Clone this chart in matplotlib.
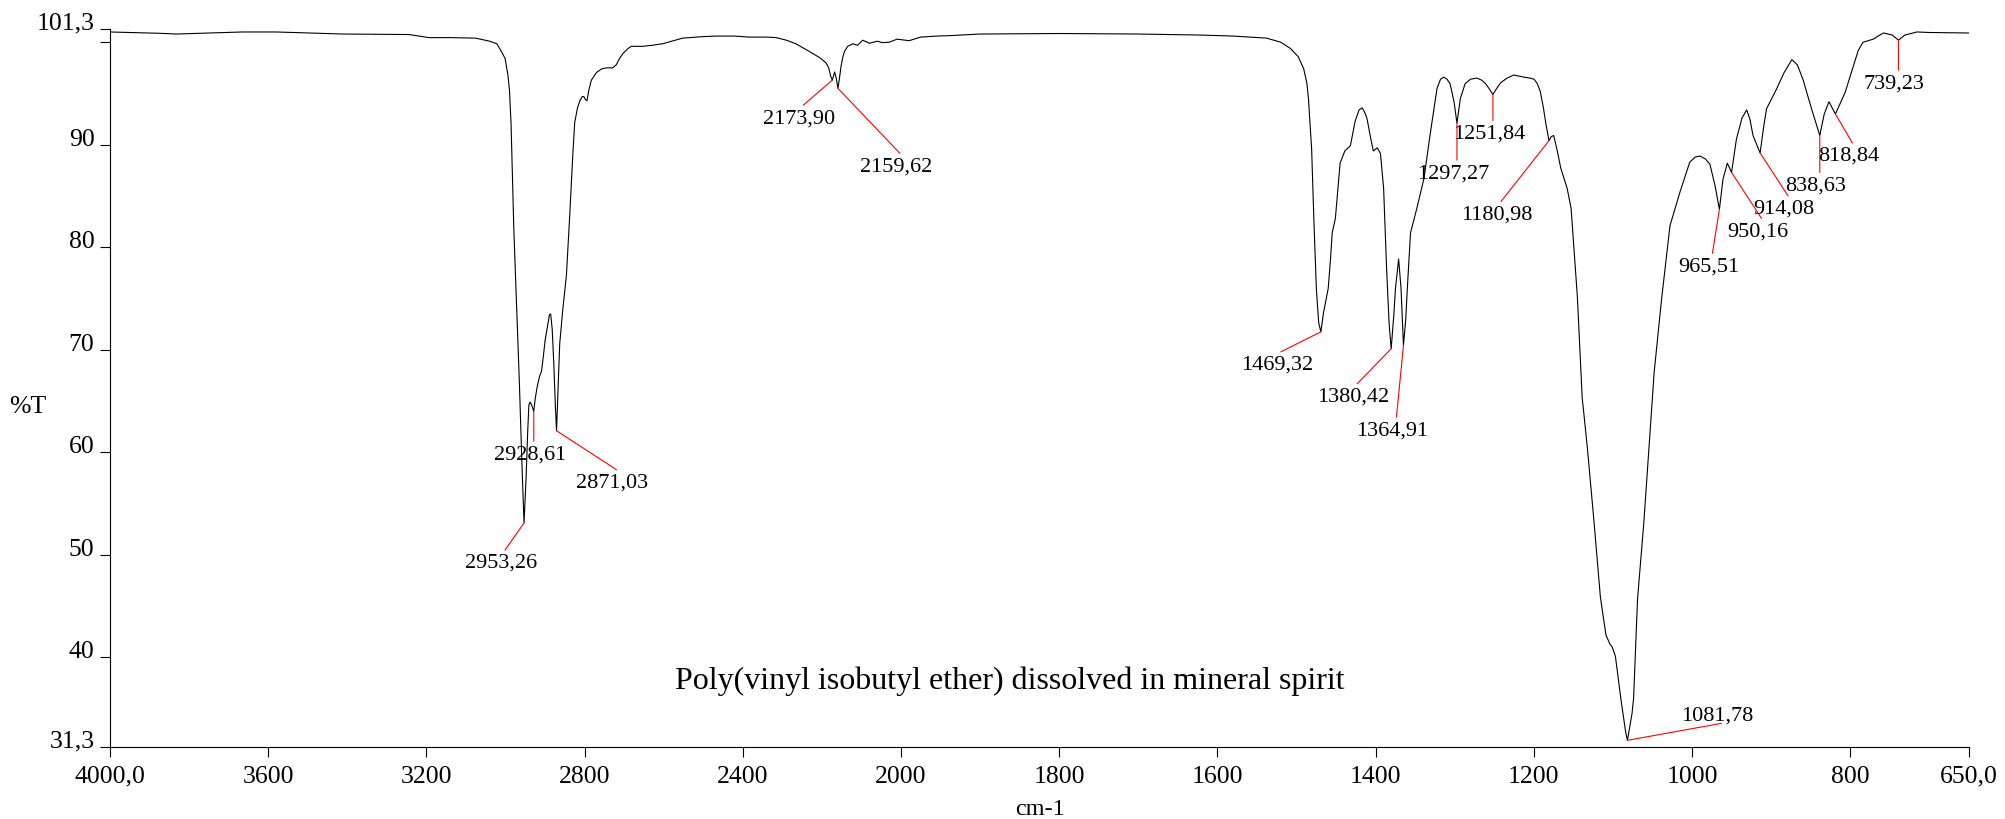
import numpy as np
import matplotlib
matplotlib.use('Agg')
import matplotlib.pyplot as plt

# FTIR spectrum
wavenumber = [
    4000, 3874, 3832, 3748, 3665, 3580, 3496, 3412, 3244, 3193, 3140, 3076, 3040, 3022, 3009,
    3001, 2994, 2990, 2986, 2982, 2979, 2972, 2965, 2959, 2953.26, 2948, 2944, 2941, 2938, 2934,
    2928.61, 2925, 2920, 2914, 2909, 2904, 2900, 2893, 2889, 2886, 2882, 2878, 2874, 2871.03, 2867,
    2863, 2855, 2846, 2837, 2830, 2825, 2818, 2812, 2806, 2802, 2798, 2794, 2789, 2783, 2770,
    2757, 2745, 2729, 2720, 2712, 2703, 2690, 2682, 2653, 2630, 2603, 2552, 2500, 2468, 2420,
    2384, 2340, 2316, 2290, 2266, 2250, 2232, 2206, 2190, 2183, 2178, 2173.90, 2168, 2164, 2159.62,
    2155, 2152, 2147, 2143, 2135, 2122, 2110, 2097, 2080, 2060, 2047, 2030, 2010, 1990, 1975,
    1955, 1937, 1900, 1800, 1700, 1622, 1580, 1538, 1520, 1508, 1498, 1491, 1487, 1485, 1481,
    1478, 1475, 1472, 1469.32, 1466, 1462, 1460, 1457, 1455, 1451, 1445, 1439, 1432, 1426, 1421,
    1417, 1413, 1411, 1406, 1403, 1398, 1394, 1390, 1386, 1383, 1380.42, 1377, 1375, 1371, 1368,
    1366, 1364.91, 1362, 1360, 1356, 1348, 1339, 1331, 1322.5, 1318, 1314, 1310, 1306, 1301, 1297.27,
    1293, 1287, 1280, 1272, 1266, 1261, 1256, 1251.84, 1247, 1242, 1234, 1225.5, 1213, 1205, 1200,
    1196, 1192, 1188, 1185, 1180.98, 1178, 1175, 1171, 1166, 1158, 1153, 1149, 1145, 1139, 1132.5,
    1124, 1116, 1109, 1104, 1101, 1097, 1090, 1084, 1081.78, 1076, 1074, 1069, 1061, 1048, 1038.6,
    1028, 1015.5, 1003, 996, 990, 983, 977.5, 971, 965.51, 961, 955.5, 950.16, 944, 937, 931,
    927, 923, 914.08, 910, 906, 893.5, 884, 874, 867, 860, 849, 838.63, 833, 827, 823,
    818.84, 813, 806.6, 796, 790, 784, 771, 765, 758, 747, 739.23, 731, 716, 700, 650,
]
transmittance = [
    101.0, 100.87, 100.8, 100.9, 101.0, 101.0, 100.9, 100.8, 100.75, 100.45, 100.45, 100.4, 100.1, 99.85, 99.0,
    98.4, 96.8, 95.3, 92.0, 86.0, 81.7, 74.3, 66.8, 59.4, 53.1, 57.5, 62.0, 64.6, 64.9, 64.6,
    64.0, 65.2, 66.4, 67.4, 67.9, 69.5, 70.9, 72.5, 73.4, 73.5, 72.0, 68.7, 64.5, 62.1, 66.5,
    70.6, 74.0, 77.3, 83.6, 89.0, 92.2, 93.6, 94.3, 94.7, 94.7, 94.4, 94.3, 95.4, 96.3, 97.05,
    97.4, 97.5, 97.5, 97.8, 98.4, 98.9, 99.4, 99.6, 99.6, 99.7, 99.85, 100.4, 100.55, 100.6, 100.6,
    100.5, 100.5, 100.45, 100.2, 99.85, 99.5, 99.1, 98.5, 98.0, 97.5, 96.7, 96.3, 97.1, 96.5, 95.5,
    96.7, 97.6, 98.6, 99.1, 99.6, 99.85, 99.7, 100.2, 99.9, 100.1, 99.96, 100.0, 100.3, 100.15, 100.5,
    100.6, 100.65, 100.8, 100.85, 100.8, 100.7, 100.6, 100.4, 100.0, 99.4, 98.6, 97.4, 96.0, 94.5, 89.6,
    82.3, 75.9, 72.6, 71.75, 73.6, 75.2, 76.0, 79.0, 81.4, 82.8, 88.2, 89.4, 89.9, 92.3, 93.4,
    93.6, 93.0, 92.55, 90.5, 89.4, 89.7, 89.15, 85.75, 77.5, 72.5, 70.1, 73.5, 76.0, 78.85, 76.0,
    72.5, 70.45, 73.0, 76.0, 81.4, 83.8, 86.7, 91.1, 95.5, 96.4, 96.6, 96.4, 95.95, 94.2, 92.1,
    94.5, 95.95, 96.4, 96.5, 96.3, 95.95, 95.4, 94.9, 95.5, 96.05, 96.5, 96.8, 96.6, 96.5, 96.4,
    96.0, 95.2, 93.6, 92.1, 90.4, 90.8, 90.9, 89.6, 87.7, 85.75, 83.8, 79.5, 75.1, 65.35, 60.5,
    53.2, 45.9, 42.2, 41.3, 41.0, 40.1, 35.9, 32.7, 31.9, 34.5, 36.0, 45.7, 53.2, 67.8, 74.95,
    82.1, 85.35, 88.3, 88.8, 88.9, 88.6, 88.1, 86.0, 83.7, 86.65, 88.2, 87.3, 90.55, 92.6, 93.4,
    92.5, 90.9, 89.2, 91.5, 93.5, 95.4, 97.0, 98.3, 97.8, 96.4, 93.5, 90.9, 93.0, 94.2, 93.6,
    93.0, 94.0, 95.1, 97.7, 99.2, 100.0, 100.3, 100.6, 100.9, 100.7, 100.2, 100.7, 101.0, 100.95, 100.9,
]

# labelled peaks
peak_wn = [2953.26, 2928.61, 2871.03, 2173.90, 2159.62, 1469.32, 1380.42, 1364.91, 1297.27,
           1251.84, 1180.98, 1081.78, 965.51, 950.16, 914.08, 838.63, 818.84, 739.23]
# end of the red leader line, in pixels from the peak (x right, y down)
leader_end = [(-19, 27), (0, 30), (60, 39), (-29, 25), (62, 65), (-40, 20), (-34, 35), (-7, 72),
              (0, 37), (0, 26), (-48, 61), (94, -17), (-7, 44), (30, 46), (28, 43), (0, 37),
              (17, 29), (0, 30)]

x_ticks = [4000, 3600, 3200, 2800, 2400, 2000, 1800, 1600, 1400, 1200, 1000, 800, 650]
x_ticklabels = ['4000,0', '3600', '3200', '2800', '2400', '2000', '1800', '1600', '1400',
                '1200', '1000', '800', '650,0']
y_ticks = [31.3, 40, 50, 60, 70, 80, 90, 100, 101.3]
y_ticklabels = ['31,3', '40', '50', '60', '70', '80', '90', '', '101,3']


# the x axis is compressed by 2 above 2000 cm-1
def fwd(x):
    x = np.asarray(x, dtype=float)
    return np.where(x > 2000, 2000 + (x - 2000) / 2, x)


def inv(u):
    u = np.asarray(u, dtype=float)
    return np.where(u > 2000, 2000 + (u - 2000) * 2, u)


plt.rcParams['font.family'] = ['Liberation Serif', 'DejaVu Serif']
plt.rcParams['ytick.alignment'] = 'baseline'

fig = plt.figure(figsize=(20.05, 8.2), dpi=100)
ax = fig.add_axes([110 / 2005, 1 - 747.5 / 820, 1859 / 2005, 717.6 / 820])

ax.plot(wavenumber, transmittance, color='black', lw=0.8)

ax.set_xscale('function', functions=(fwd, inv))
ax.set_xlim(4000, 650)
ax.set_ylim(31.3, 101.3)

ax.set_xticks(x_ticks)
ax.set_xticklabels(x_ticklabels)
ax.set_yticks(y_ticks)
ax.set_yticklabels(y_ticklabels)
ax.minorticks_off()
ax.tick_params(direction='out', length=7.2, width=0.8, labelsize=18.5, colors='black')
ax.tick_params(axis='x', pad=6)
ax.tick_params(axis='y', pad=4)

for side in ['top', 'right']:
    ax.spines[side].set_visible(False)
for side in ['left', 'bottom']:
    ax.spines[side].set_linewidth(0.8)

ax.set_xlabel('cm-1', fontsize=17.5, va='center')
ax.xaxis.set_label_coords(0.5, -0.087)
ax.set_ylabel('%T', fontsize=18.5, rotation=0, ha='center', va='center')
ax.yaxis.set_label_coords(-0.0445, 0.4745)

ax.text(0.4841, 0.0815, 'Poly(vinyl isobutyl ether) dissolved in mineral spirit',
        transform=ax.transAxes, ha='center', va='baseline', fontsize=23)

# peak labels with red leader lines
spec = dict(zip(wavenumber, transmittance))
for wn, (dx, dy) in zip(peak_wn, leader_end):
    t = spec[wn]
    label = f'{wn:.2f}'.replace('.', ',')
    ax.annotate('', xy=(wn, t), xytext=(dx, -dy), textcoords='offset pixels',
                arrowprops=dict(arrowstyle='-', color='red', lw=0.8, shrinkA=0, shrinkB=0))
    if dy > 0:
        ax.annotate(label, xy=(wn, t), xytext=(dx - 4, -dy - 3), textcoords='offset pixels',
                    ha='center', va='top', fontsize=16)
    else:
        ax.annotate(label, xy=(wn, t), xytext=(dx - 4, -dy + 4), textcoords='offset pixels',
                    ha='center', va='baseline', fontsize=16)

fig.savefig('out.png', dpi=100)
